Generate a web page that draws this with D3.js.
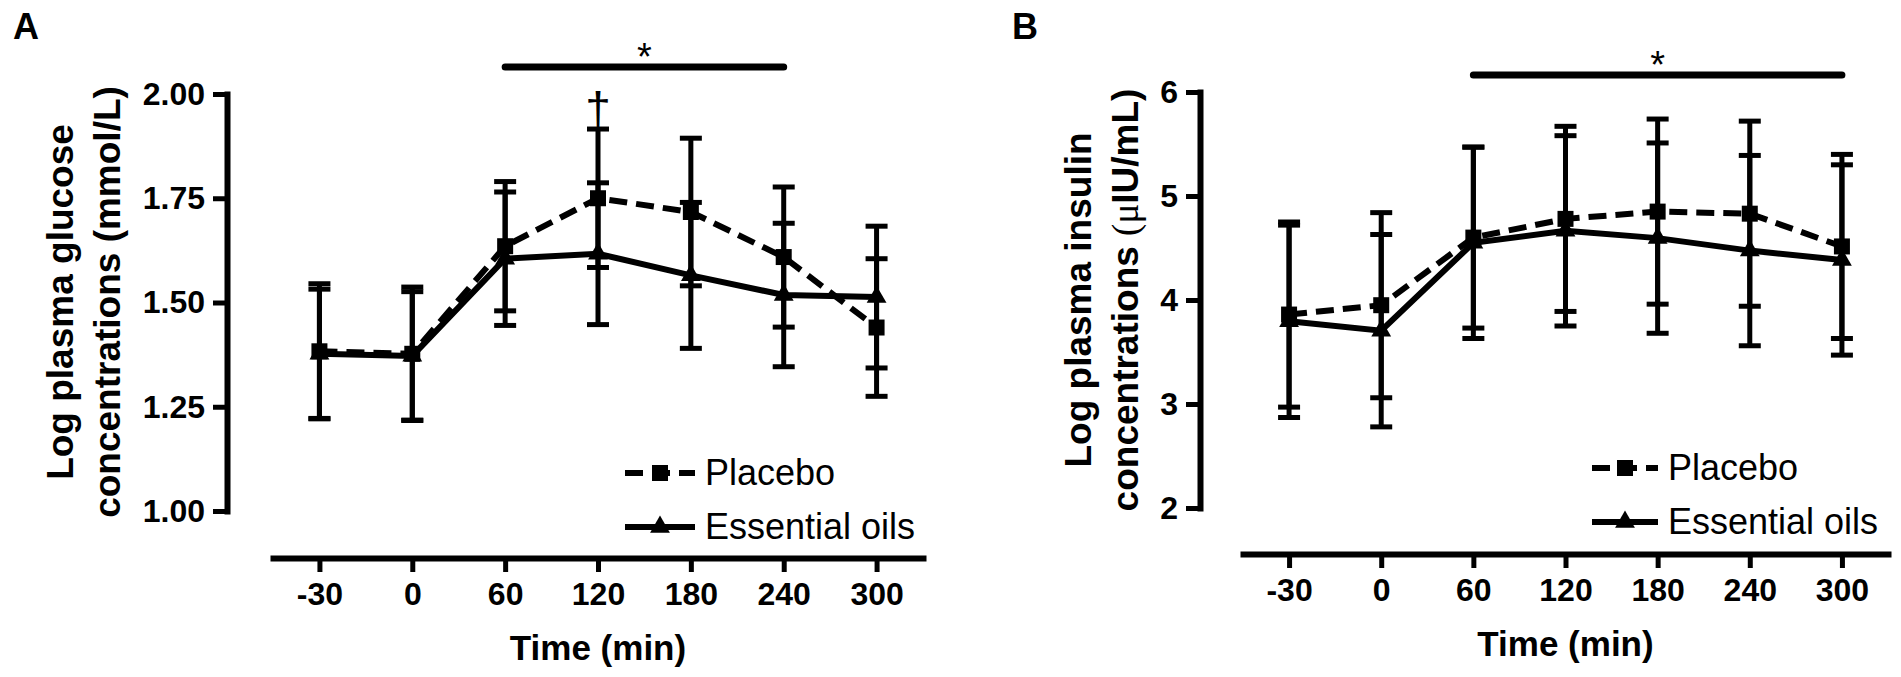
<!DOCTYPE html>
<html lang="en">
<meta charset="utf-8">
<style>
  body { margin: 0; background: #fff; }
  svg text { font-family: "Liberation Sans", Arial, sans-serif; fill: #000; }
  .axis text { font-size: 32px; font-weight: bold; }
  .axis line, .axis path { stroke: #000; stroke-width: 5px; }
  .axis path.domain { stroke-width: 6px; stroke-linecap: square; }
</style>
<script src="https://d3js.org/d3.v7.min.js"></script>
<body>
<div id="chart"></div>
<script>
// time points (categorical x axis)
const times = ["-30", "0", "60", "120", "180", "240", "300"]

// panel A : log plasma glucose
const glucosePlacebo    = [1.383, 1.377, 1.635, 1.750, 1.717, 1.609, 1.440]
const glucosePlaceboErr = [0.162, 0.160, 0.155, 0.166, 0.177, 0.168, 0.165]
const glucoseOils       = [1.377, 1.372, 1.605, 1.617, 1.565, 1.518, 1.513]
const glucoseOilsErr    = [0.155, 0.154, 0.160, 0.170, 0.175, 0.172, 0.170]
const glucoseTicks      = [1.00, 1.25, 1.50, 1.75, 2.00]

// panel B : log plasma insulin
const insulinPlacebo    = [3.860, 3.950, 4.600, 4.780, 4.850, 4.830, 4.515]
const insulinPlaceboErr = [0.890, 0.890, 0.870, 0.890, 0.890, 0.890, 0.885]
const insulinOils       = [3.795, 3.705, 4.550, 4.665, 4.595, 4.475, 4.385]
const insulinOilsErr    = [0.925, 0.925, 0.920, 0.915, 0.915, 0.915, 0.915]
const insulinTicks      = [2, 3, 4, 5, 6]

const seriesNames = ["Placebo", "Essential oils"]

const svg = d3.select("#chart").append("svg")
  .attr("width", 1901)
  .attr("height", 677)

const DASH = "18,9"

function drawPanel(p) {
  const g = svg.append("g")

  const x = d3.scalePoint().domain(times).range(p.xRange).padding(0.5)
  const y = d3.scaleLinear().domain(p.yDomain).range(p.yRange)

  // panel letter
  g.append("text")
    .attr("x", p.letterX).attr("y", 39)
    .style("font-size", "36px").style("font-weight", "bold")
    .text(p.letter)

  // y axis
  g.append("g")
    .attr("class", "axis")
    .attr("transform", `translate(${p.yAxisX},0)`)
    .call(d3.axisLeft(y).tickValues(p.ticks).tickFormat(p.fmt)
      .tickSize(14).tickSizeOuter(0).tickPadding(8))

  // x axis
  g.append("g")
    .attr("class", "axis")
    .attr("transform", `translate(0,${p.xAxisY})`)
    .call(d3.axisBottom(x).tickSize(14).tickSizeOuter(0).tickPadding(10))
  g.selectAll(".axis text").style("font-weight", "bold")

  // axis titles
  g.append("text")
    .attr("transform", `translate(${p.yLab1X},${p.yLabY}) rotate(-90)`)
    .attr("text-anchor", "middle")
    .style("font-size", "37px").style("font-weight", "bold")
    .text(p.yLab1)
  const yt2 = g.append("text")
    .attr("transform", `translate(${p.yLab2X},${p.yLabY}) rotate(-90)`)
    .attr("text-anchor", "middle")
    .style("font-size", "37px").style("font-weight", "bold")
  p.yLab2.forEach(part => {
    const t = yt2.append("tspan").text(part.t)
    if (part.light) t.style("font-weight", "normal").style("font-family", "'Liberation Serif', 'DejaVu Serif', serif")
  })

  g.append("text")
    .attr("x", x("120")).attr("y", p.xLabY)
    .attr("text-anchor", "middle")
    .style("font-size", "35px").style("font-weight", "bold")
    .text("Time (min)")

  // significance bar
  g.append("line")
    .attr("x1", x(p.sigFrom)).attr("x2", x(p.sigTo))
    .attr("y1", p.sigY).attr("y2", p.sigY)
    .attr("stroke", "#000").attr("stroke-width", 7).attr("stroke-linecap", "round")
  g.append("text")
    .attr("x", (x(p.sigFrom) + x(p.sigTo)) / 2).attr("y", p.sigY + 3)
    .attr("text-anchor", "middle")
    .style("font-size", "38px")
    .text("*")
  if (p.dagger) {
    g.append("text")
      .attr("x", x(p.dagger)).attr("y", 125)
      .attr("text-anchor", "middle")
      .style("font-size", "46px")
      .text("†")
  }

  const series = [
    { vals: p.placebo, err: p.placeboErr, dash: DASH, sym: d3.symbolSquare, size: 256 },
    { vals: p.oils, err: p.oilsErr, dash: null, sym: d3.symbolTriangle, size: 170 }
  ]

  // error bars
  series.forEach(s => {
    const eb = g.append("g").attr("stroke", "#000").attr("stroke-width", 5)
    times.forEach((t, i) => {
      const hi = y(s.vals[i] + s.err[i]), lo = y(s.vals[i] - s.err[i])
      eb.append("line").attr("x1", x(t)).attr("x2", x(t)).attr("y1", hi).attr("y2", lo)
      eb.append("line").attr("x1", x(t) - 11).attr("x2", x(t) + 11).attr("y1", hi).attr("y2", hi)
      eb.append("line").attr("x1", x(t) - 11).attr("x2", x(t) + 11).attr("y1", lo).attr("y2", lo)
    })
  })

  // lines and markers
  const line = d3.line().x((d, i) => x(times[i])).y(d => y(d))
  series.forEach(s => {
    g.append("path")
      .attr("d", line(s.vals))
      .attr("fill", "none").attr("stroke", "#000").attr("stroke-width", 6)
      .attr("stroke-dasharray", s.dash)
    g.selectAll(null).data(s.vals).join("path")
      .attr("transform", (d, i) => `translate(${x(times[i])},${y(d)})`)
      .attr("d", d3.symbol(s.sym, s.size))
      .attr("fill", "#000")
  })

  // legend
  const lg = g.append("g").attr("transform", `translate(${p.legX},${p.legY})`)
  series.forEach((s, i) => {
    const ly = i * 54
    lg.append("line").attr("x1", 0).attr("x2", p.legLen).attr("y1", ly).attr("y2", ly)
      .attr("stroke", "#000").attr("stroke-width", 6).attr("stroke-dasharray", s.dash)
    lg.append("path").attr("transform", `translate(${p.legLen / 2},${ly})`)
      .attr("d", d3.symbol(s.sym, s.size)).attr("fill", "#000")
    lg.append("text").attr("x", p.legLen + 10).attr("y", ly + 12)
      .style("font-size", "36px")
      .text(seriesNames[i])
  })
}

drawPanel({
  letter: "A", letterX: 13,
  xRange: [273, 923], xAxisY: 558,
  yDomain: [1, 2], yRange: [511, 94], yAxisX: 227,
  ticks: glucoseTicks, fmt: d3.format(".2f"),
  yLab1: "Log plasma glucose", yLab2: [{ t: "concentrations (mmol/L)" }],
  yLab1X: 73, yLab2X: 120, yLabY: 302, xLabY: 660,
  sigFrom: "60", sigTo: "240", sigY: 67, dagger: "120",
  placebo: glucosePlacebo, placeboErr: glucosePlaceboErr,
  oils: glucoseOils, oilsErr: glucoseOilsErr,
  legX: 625, legY: 473, legLen: 70
})

drawPanel({
  letter: "B", letterX: 1012,
  xRange: [1243, 1888], xAxisY: 554,
  yDomain: [2, 6], yRange: [508, 92], yAxisX: 1200,
  ticks: insulinTicks, fmt: d3.format("d"),
  yLab1: "Log plasma insulin",
  yLab2: [{ t: "concentrations " }, { t: "(\u03bc", light: true }, { t: "IU/mL)" }],
  yLab1X: 1091, yLab2X: 1138, yLabY: 300, xLabY: 656,
  sigFrom: "60", sigTo: "300", sigY: 75, dagger: null,
  placebo: insulinPlacebo, placeboErr: insulinPlaceboErr,
  oils: insulinOils, oilsErr: insulinOilsErr,
  legX: 1592, legY: 468, legLen: 66
})
</script>
</body>
</html>
